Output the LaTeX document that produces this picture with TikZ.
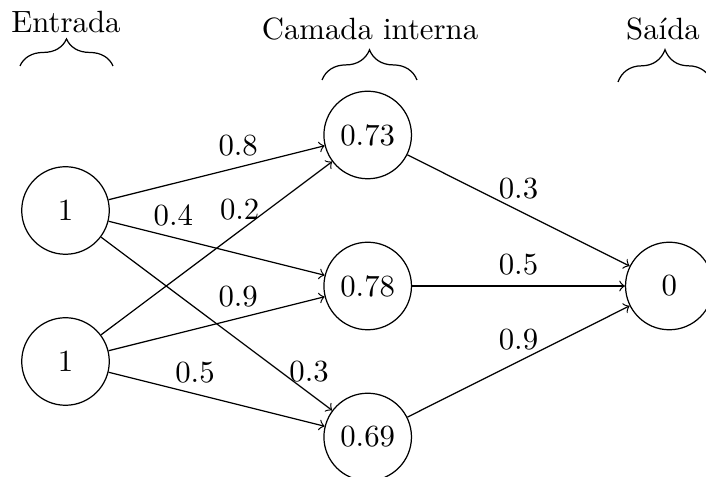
\documentclass[tikz,border=0pt]{standalone}
\usetikzlibrary{decorations.pathreplacing}
\begin{document}
\begin{tikzpicture}[x=0.325pt,y=-0.325pt,
  neuron/.style={draw,circle,minimum size=1cm,inner sep=0pt},
  conn/.style={->},
  wlabel/.style={above},
  layerbrace/.style={decorate,decoration={brace,amplitude=#1}},
  layertitle/.style={anchor=base}]
\useasboundingbox (0,0) rectangle (706,477);
% nodes
\node[neuron] (i1) at (65.5,210.5) {1};
\node[neuron] (i2) at (65.5,361.5) {1};
\node[neuron] (h1) at (367.7,135) {0.73};
\node[neuron] (h2) at (367.7,286) {0.78};
\node[neuron] (h3) at (367.7,437) {0.69};
\node[neuron] (o) at (669.3,286) {0};
% connectors
\draw[conn] (i1) -- node[wlabel,pos=0.6] {0.8} (h1);
\draw[conn] (i1) -- node[wlabel,pos=0.3] {0.4} (h2);
\draw[conn] (i1) -- node[wlabel,pos=0.9] {0.3} (h3);
\draw[conn] (i2) -- node[wlabel,pos=0.6] {0.2} (h1);
\draw[conn] (i2) -- node[wlabel,pos=0.6] {0.9} (h2);
\draw[conn] (i2) -- node[wlabel,pos=0.4] {0.5} (h3);
\draw[conn] (h1) -- node[wlabel] {0.3} (o);
\draw[conn] (h2) -- node[wlabel] {0.5} (o);
\draw[conn] (h3) -- node[wlabel] {0.9} (o);
% layer titles and braces
\coordinate (b1l) at (20,66);
\coordinate (b1r) at (113,66);
\coordinate (b2l) at (322,80);
\coordinate (b2r) at (417,80);
\coordinate (b3l) at (618,82);
\coordinate (b3r) at (712,82);
\draw[layerbrace=8.8pt] (b1l) -- (b1r);
\draw[layerbrace=9.8pt] (b2l) -- (b2r);
\draw[layerbrace=10.5pt] (b3l) -- (b3r);
\node[layertitle] (t1) at (66,33) {Entrada};
\node[layertitle] (t2) at (370,40) {Camada interna};
\node[layertitle] (t3) at (663,40) {Saída};
\end{tikzpicture}
\end{document}
